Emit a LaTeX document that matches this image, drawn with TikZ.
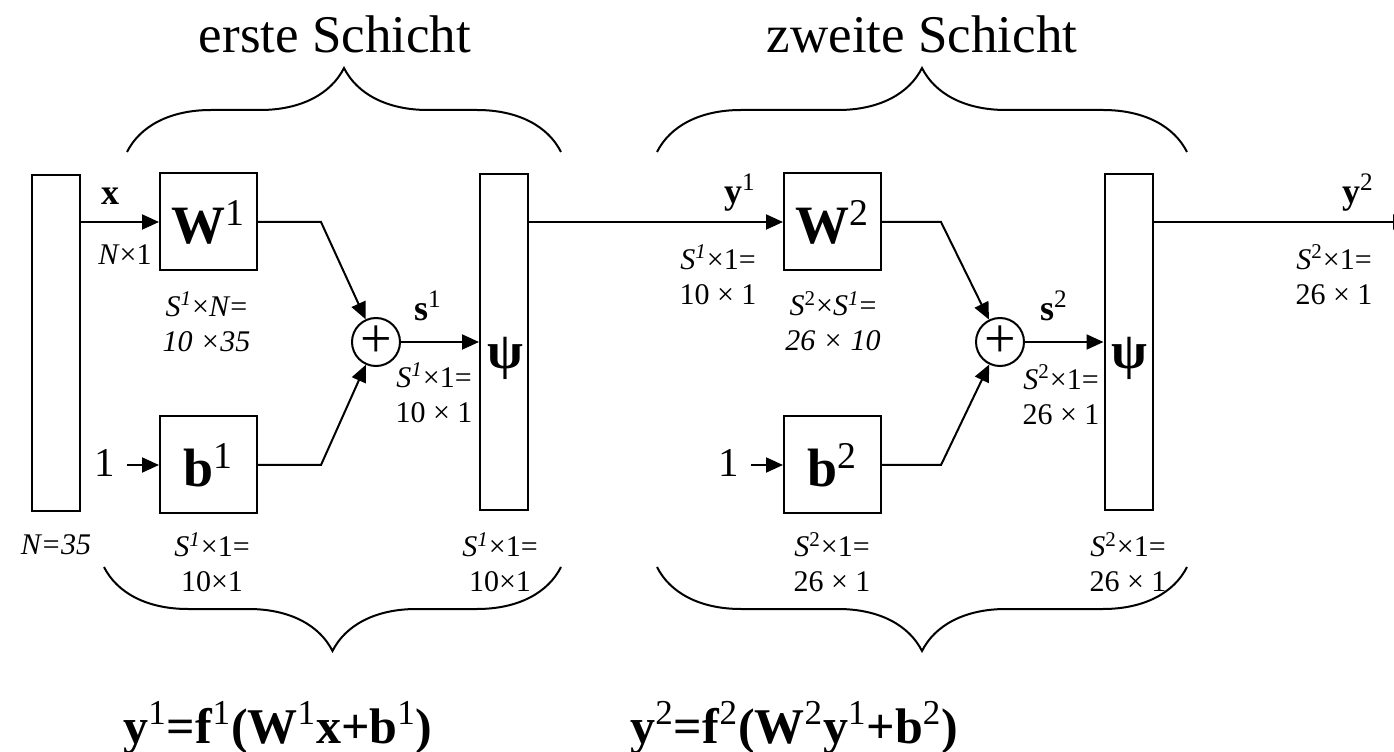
\documentclass[tikz,border=0pt]{standalone}
\usepackage{fontspec}
\setmainfont{Liberation Serif}
\usetikzlibrary{arrows.meta,positioning,decorations.pathreplacing}
\newcommand{\bsup}[2]{\textbf{#1}\textsuperscript{#2}}

\begin{document}
\begin{tikzpicture}[x=0.5pt,y=0.5pt,
    bar/.style={draw,line width=1pt,minimum width=24pt,minimum height=168pt,inner sep=0pt},
    wbox/.style={draw,line width=1pt,minimum size=48.5pt,inner sep=0pt,font=\fontsize{27}{27}\selectfont},
    sumnode/.style={draw,circle,line width=1pt,minimum size=24pt,inner sep=0pt,font=\fontsize{28}{28}\selectfont},
    lbl/.style={align=center,inner sep=0pt,font=\fontsize{15}{17.5}\selectfont},
    sig/.style={inner sep=0pt,font=\fontsize{18}{18}\selectfont},
    psi/.style={inner sep=0pt,font=\fontsize{26}{26}\selectfont\bfseries},
    one/.style={inner sep=0pt,font=\fontsize{20.5}{20.5}\selectfont},
    ttl/.style={inner sep=0pt,font=\fontsize{26.5}{26.5}\selectfont},
    eq/.style={inner sep=0pt,font=\fontsize{25}{25}\selectfont},
    brc/.style={line width=1pt,decorate,decoration={brace,amplitude=42pt}},
    arr/.style={-{Triangle[length=8.5pt,width=7.5pt]},line width=1pt}]
  \useasboundingbox (0,0) rectangle (1394,751);
  % first layer
  \node[bar] (inp) at (56,408) {};
  \node[wbox] (w1) at (208.5,529) {\bsup{W}{1}};
  \node[wbox,below=72pt of w1] (b1) {\bsup{b}{1}};
  \node[sumnode] (sum1) at (376,409) {+};
  \node[bar] (act1) at (504,408.5) {};
  \node[psi] (psi1) at (505,393) {ψ};
  \node[one,left=22pt of b1.west,yshift=1pt] (one1) {1};
  % second layer
  \node[wbox] (w2) at (832.5,529) {\bsup{W}{2}};
  \node[wbox,below=72pt of w2] (b2) {\bsup{b}{2}};
  \node[sumnode] (sum2) at (1000,409) {+};
  \node[bar] (act2) at (1128.5,408.5) {};
  \node[psi] (psi2) at (1129,393) {ψ};
  \node[one,left=22pt of b2.west,yshift=1pt] (one2) {1};
  \coordinate (out) at (1410,529);
  % connectors
  \draw[arr] (inp.east |- w1.west) -- (w1.west);
  \draw[arr] (w1.east) -- ++(63,0) -- (sum1);
  \draw[arr] (b1.east) -- ++(63,0) -- (sum1);
  \draw[arr,shorten <=6pt] (one1.east |- b1.west) -- (b1.west);
  \draw[arr] (sum1.east) -- (sum1.east -| act1.west);
  \draw[arr] (act1.east |- w2.west) -- (w2.west);
  \draw[arr] (w2.east) -- ++(59,0) -- (sum2);
  \draw[arr] (b2.east) -- ++(59,0) -- (sum2);
  \draw[arr,shorten <=6pt] (one2.east |- b2.west) -- (b2.west);
  \draw[arr] (sum2.east) -- (sum2.east -| act2.west);
  \draw[arr] (act2.east |- out) -- (out);
  % signal labels
  \node[sig] (xlbl) at (110,555) {\textbf{x}};
  \node[sig] (s1lbl) at (428,445) {\bsup{s}{1}};
  \node[sig] (y1lbl) at (740,558.5) {\bsup{y}{1}};
  \node[sig] (s2lbl) at (1054,445) {\bsup{s}{2}};
  \node[sig] (y2lbl) at (1358,558.5) {\bsup{y}{2}};
  % dimensions
  \node[lbl] (dimx) at (125,496) {\textit{N}×1};
  \node[lbl] (dimw1) at (206.5,429.5) {\textit{S\textsuperscript{1}}×\textit{N}=\\\textit{10 ×35}};
  \node[lbl] (dims1) at (434,358.5) {\textit{S\textsuperscript{1}}×1=\\10 × 1};
  \node[lbl] (diminp) at (56,206) {\textit{N=35}};
  \node[lbl] (dimb1) at (212,189) {\textit{S\textsuperscript{1}}×1=\\10×1};
  \node[lbl] (dima1) at (500,189) {\textit{S\textsuperscript{1}}×1=\\10×1};
  \node[lbl] (dimy1) at (718,476.5) {\textit{S\textsuperscript{1}}×1=\\10 × 1};
  \node[lbl] (dimw2) at (833,430) {\textit{S}\textsuperscript{2}×\textit{S\textsuperscript{1}}=\\\textit{26 × 10}};
  \node[lbl] (dims2) at (1061,356.5) {\textit{S}\textsuperscript{2}×1=\\26 × 1};
  \node[lbl] (dimy2) at (1334,476.5) {\textit{S}\textsuperscript{2}×1=\\26 × 1};
  \node[lbl] (dimb2) at (832,189) {\textit{S}\textsuperscript{2}×1=\\26 × 1};
  \node[lbl] (dima2) at (1128,189) {\textit{S}\textsuperscript{2}×1=\\26 × 1};
  % braces and titles
  \draw[brc] (127,599) -- (561,599);
  \draw[brc] (657,599) -- (1187,599);
  \draw[brc,decoration={mirror}] (104,184) -- (561,184);
  \draw[brc,decoration={mirror}] (657,184) -- (1187,184);
  \node[ttl,anchor=base] (ttl1) at (335,698) {erste Schicht};
  \node[ttl,anchor=base] (ttl2) at (922,698) {zweite Schicht};
  \node[eq,anchor=base west] (eq1) at (123,8) {\bsup{y}{1}\textbf{=}\bsup{f}{1}\textbf{(}\bsup{W}{1}\textbf{x+}\bsup{b}{1}\textbf{)}};
  \node[eq,anchor=base west] (eq2) at (630,8) {\bsup{y}{2}\textbf{=}\bsup{f}{2}\textbf{(}\bsup{W}{2}\bsup{y}{1}\textbf{+}\bsup{b}{2}\textbf{)}};
\end{tikzpicture}
\end{document}
